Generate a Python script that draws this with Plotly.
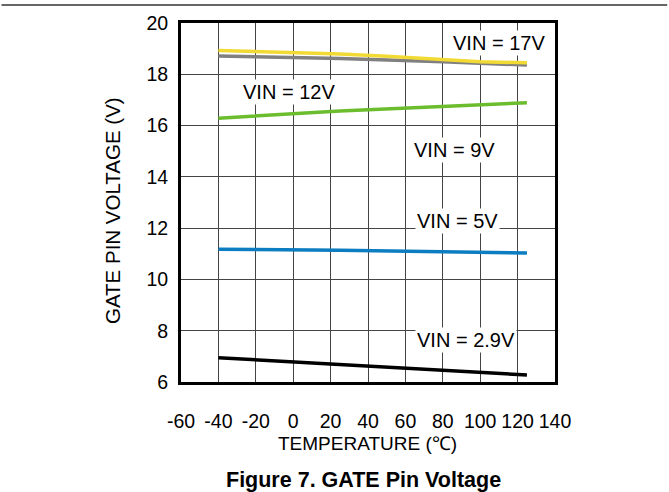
import plotly.graph_objects as go

# Data
temp_17 = [-40, 0, 25, 50, 83, 100, 125]
vgate_17 = [18.93, 18.86, 18.79, 18.70, 18.58, 18.49, 18.45]

temp_12 = [-40, 25, 80, 125]
vgate_12 = [18.71, 18.62, 18.49, 18.36]

temp_9 = [-40, 25, 125]
vgate_9 = [16.29, 16.57, 16.89]

temp_5 = [-40, 25, 125]
vgate_5 = [11.18, 11.14, 11.03]

temp_29 = [-40, 25, 125]
vgate_29 = [6.95, 6.69, 6.27]

x_ticks = [-60, -40, -20, 0, 20, 40, 60, 80, 100, 120, 140]
x_tick_labels = ["-60", "-40", "-20", "0", "20", "40", "60", "80", "100", "120", "140"]
y_ticks = [6, 8, 10, 12, 14, 16, 18, 20]

labels = ["VIN = 17V", "VIN = 12V", "VIN = 9V", "VIN = 5V", "VIN = 2.9V"]
label_x = [110.0, -2.2, 86.5, 88.1, 92.2]
label_y = [19.22, 17.31, 15.05, 12.28, 7.64]

FONT = "Liberation Sans, Arial, sans-serif"

fig = go.Figure()
series = [
    (temp_12, vgate_12, "#808080"),
    (temp_17, vgate_17, "#F2DA35"),
    (temp_9, vgate_9, "#6BBD2E"),
    (temp_5, vgate_5, "#0B7DC0"),
    (temp_29, vgate_29, "#000000"),
]
for xs, ys, c in series:
    fig.add_trace(go.Scatter(x=xs, y=ys, mode="lines",
                             line=dict(color=c, width=3.5), showlegend=False,
                             hoverinfo="skip"))

for t, x, y in zip(labels, label_x, label_y):
    fig.add_annotation(x=x, y=y, text=t, showarrow=False, xref="x", yref="y",
                       xanchor="center", yanchor="middle",
                       font=dict(family=FONT, size=20, color="#000"),
                       bgcolor="white", borderpad=1)

# plot area in page px: left 181, right 555, top 23, bottom 382
fig.add_annotation(x=(112 - 181) / 374, y=(382 - 211) / 359, xref="paper", yref="paper",
                   xanchor="center", yanchor="middle",
                   text="GATE PIN VOLTAGE (V)", textangle=-90, showarrow=False,
                   font=dict(family=FONT, size=20.5, color="#000"))
fig.add_annotation(x=(367 - 181) / 374, y=(382 - 443) / 359, xref="paper", yref="paper",
                   xanchor="center", yanchor="middle",
                   text="TEMPERATURE (℃)", showarrow=False,
                   font=dict(family=FONT, size=19, color="#000"))
fig.add_annotation(x=(363 - 181) / 374, y=(382 - 480) / 359, xref="paper", yref="paper",
                   xanchor="center", yanchor="middle",
                   text="<b>Figure 7. GATE Pin Voltage</b>", showarrow=False,
                   font=dict(family=FONT, size=21.5, color="#000"))

fig.add_shape(type="line", xref="paper", yref="paper", layer="above",
              x0=-0.48, x1=1.30, y0=(382 - 5) / 359, y1=(382 - 5) / 359,
              line=dict(color="#333", width=1.5))

fig.update_xaxes(range=[-60, 140], tickvals=x_ticks, ticktext=x_tick_labels,
                 showgrid=True, gridcolor="#444", gridwidth=1,
                 showline=True, linecolor="black", linewidth=3, mirror=True,
                 zeroline=False, ticks="", ticklabelstandoff=20,
                 tickfont=dict(family=FONT, size=19.5, color="#000"))
fig.update_yaxes(range=[6, 20], tickvals=y_ticks,
                 showgrid=True, gridcolor="#444", gridwidth=1,
                 showline=True, linecolor="black", linewidth=3, mirror=True,
                 zeroline=False, ticks="", ticklabelstandoff=6,
                 tickfont=dict(family=FONT, size=19.5, color="#000"))

fig.update_layout(width=669, height=492,
                  margin=dict(l=181, r=114, t=23, b=110),
                  plot_bgcolor="white", paper_bgcolor="white")

fig.write_html("out.html", config={"displayModeBar": False},
               post_script="document.body.style.margin='0';")
